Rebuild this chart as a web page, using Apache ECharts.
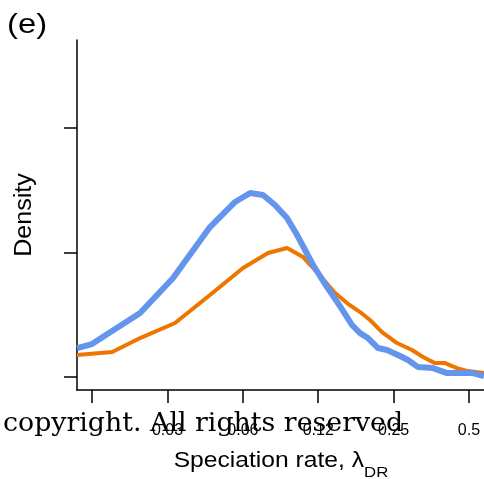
<!DOCTYPE html>
<html><head><meta charset="utf-8">
<script src="https://cdn.jsdelivr.net/npm/echarts@6/dist/echarts.min.js"></script>
<style>html,body{margin:0;padding:0;background:#fff}#c{width:484px;height:479px}</style>
</head><body><div id="c"></div>
<script>
// Speciation rate (x, log2 scale) and density (y, arbitrary units: ticks at 0,1,2)
const blueRate = [0.0136, 0.0156, 0.0243, 0.0329, 0.0462, 0.0582, 0.0668, 0.0752, 0.0840, 0.0938, 0.1029, 0.1192, 0.1355, 0.1527, 0.1705, 0.1836, 0.1975, 0.2166, 0.2352, 0.2651, 0.2853, 0.3130, 0.3592, 0.4085, 0.4731, 0.5187, 0.5740];
const blueDensity = [0.233, 0.265, 0.514, 0.795, 1.205, 1.406, 1.478, 1.462, 1.382, 1.277, 1.141, 0.900, 0.723, 0.570, 0.418, 0.353, 0.313, 0.233, 0.217, 0.169, 0.137, 0.080, 0.072, 0.032, 0.032, 0.032, 0.008];
const orangeRate = [0.0136, 0.0188, 0.0243, 0.0335, 0.0462, 0.0626, 0.0788, 0.0938, 0.1087, 0.1236, 0.1459, 0.1629, 0.1836, 0.2012, 0.2247, 0.2579, 0.2961, 0.3276, 0.3657, 0.4010, 0.4478, 0.4955, 0.5740];
const orangeDensity = [0.177, 0.201, 0.313, 0.434, 0.659, 0.876, 0.996, 1.036, 0.964, 0.843, 0.675, 0.594, 0.522, 0.458, 0.361, 0.273, 0.217, 0.161, 0.112, 0.112, 0.072, 0.048, 0.032];
const xTickRates = [0.015625, 0.03125, 0.0625, 0.125, 0.25, 0.5];
const xTickLabels = ['', '0.03', '0.06', '0.12', '0.25', '0.5'];
const yTickValues = [0, 1, 2];
const xRange = [0.0136, 0.574];
const yRange = [-0.104, 2.707];

const L = Math.log2;
const toPairs = (xs, ys) => xs.map((x, i) => [L(x), ys[i]]);
const FONT = 'Liberation Sans, Arial, sans-serif';

const chart = echarts.init(document.getElementById('c'), null, {renderer: 'canvas'});
chart.setOption({
  animation: false,
  backgroundColor: '#ffffff',
  grid: {left: 77, top: 40, right: 0, bottom: 89, containLabel: false},
  xAxis: {
    type: 'value',
    min: L(xRange[0]), max: L(xRange[1]),
    axisLine: {show: true, onZero: false, lineStyle: {color: '#000', width: 1.5}},
    axisTick: {show: true, length: 13, inside: false, customValues: xTickRates.map(L), lineStyle: {color: '#000', width: 1.5}},
    axisLabel: {
      show: true, margin: 33, fontSize: 16, color: '#000', fontFamily: FONT,
      customValues: xTickRates.map(L),
      formatter: v => {
        let best = 0;
        xTickRates.forEach((r, i) => { if (Math.abs(L(r) - v) < Math.abs(L(xTickRates[best]) - v)) best = i; });
        return xTickLabels[best];
      }
    },
    splitLine: {show: false}
  },
  yAxis: {
    type: 'value',
    min: yRange[0], max: yRange[1],
    axisLine: {show: true, onZero: false, lineStyle: {color: '#000', width: 1.5}},
    axisTick: {show: true, length: 13, customValues: yTickValues, lineStyle: {color: '#000', width: 1.5}},
    axisLabel: {show: false},
    splitLine: {show: false}
  },
  series: [
    {type: 'line', data: toPairs(orangeRate, orangeDensity), showSymbol: false, symbol: 'none',
     lineStyle: {color: '#EE7600', width: 4}, z: 2},
    {type: 'line', data: toPairs(blueRate, blueDensity), showSymbol: false, symbol: 'none',
     lineStyle: {color: '#6495ED', width: 6}, z: 3}
  ],
  graphic: [
    {type: 'text', x: 7, y: 11, scaleX: 1.17,
     style: {text: '(e)', fontSize: 28, fontFamily: FONT, fill: '#000', align: 'left', verticalAlign: 'top'}},
    {type: 'text', x: 25, y: 215, rotation: Math.PI / 2, scaleX: 1.09,
     style: {text: 'Density', fontSize: 23, fontFamily: FONT, fill: '#000', align: 'center', verticalAlign: 'middle'}},
    {type: 'text', x: 281, y: 450, scaleX: 1.12,
     style: {text: '{a|Speciation rate, λ}{b|DR}', fill: '#000', align: 'center', verticalAlign: 'top',
       rich: {
         a: {fontSize: 22, fontFamily: FONT, lineHeight: 26, verticalAlign: 'top', fill: '#000'},
         b: {fontSize: 15, fontFamily: FONT, lineHeight: 15, verticalAlign: 'top', padding: [15, 0, 0, 0], fill: '#000'}
       }}},
    {type: 'text', x: 3, y: 424, z: 100,
     style: {text: 'copyright. All rights reserved', fontSize: 26.8, fontFamily: 'DejaVu Serif, serif', fill: '#000', align: 'left', verticalAlign: 'middle'}}
  ]
});
</script></body></html>
